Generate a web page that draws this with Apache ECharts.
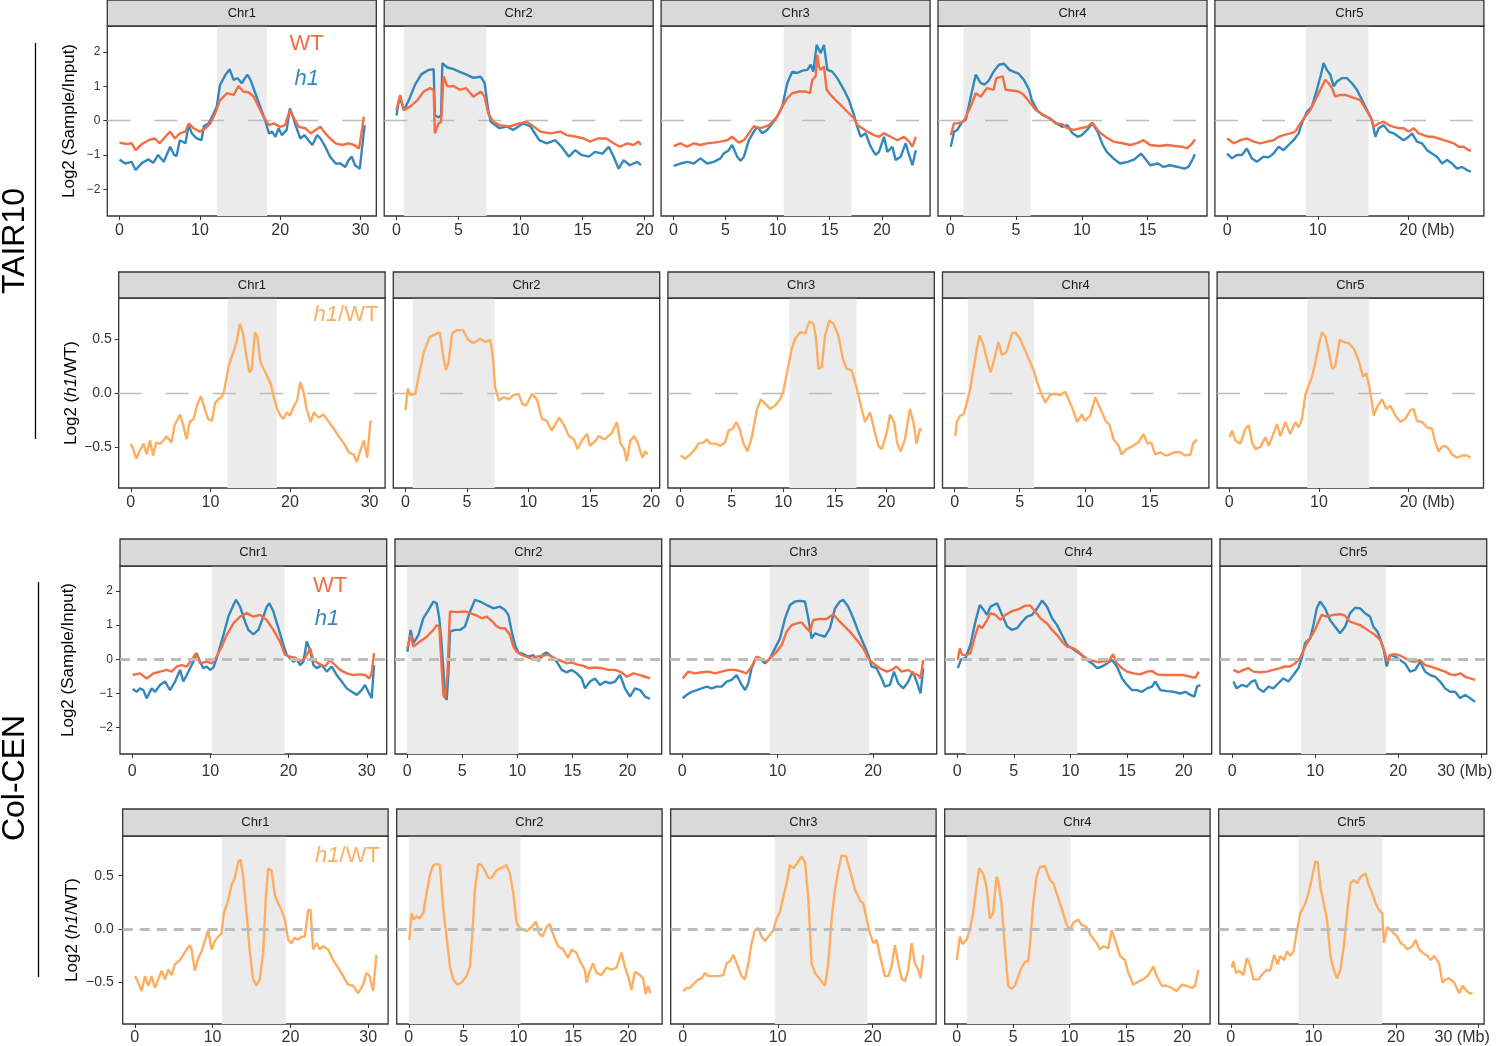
<!DOCTYPE html>
<html>
<head>
<meta charset="utf-8">
<script src="https://cdn.jsdelivr.net/npm/echarts@6/dist/echarts.min.js"></script>
<style>
  html, body { margin: 0; padding: 0; background: #fff; }
  #chart { width: 1500px; height: 1046px; }
</style>
</head>
<body>
<div id="chart"></div>
<script>
const FONT = "'Liberation Sans', Arial, Helvetica, sans-serif";
const RED = '#F46D43', BLUE = '#3288BD', ORANGE = '#FDAE61';

const chrNames = ['Chr1', 'Chr2', 'Chr3', 'Chr4', 'Chr5'];
const tairLen = [30.43, 19.70, 23.46, 18.59, 26.98];
const colLen = [31.0, 22.0, 25.4, 21.4, 29.2];
// pericentromere shading (Mb)
const tairCen = [[12.15, 18.35], [0.6, 7.25], [10.6, 17.1], [1.0, 6.1], [8.7, 15.6]];
const colCenA = [[10.2, 19.5], [0.0, 10.1], [9.2, 19.6], [0.75, 10.6], [8.3, 18.5]];
const colCenB = [[11.2, 19.4], [0.0, 10.2], [9.7, 19.45], [0.9, 10.1], [8.2, 18.3]];
const tairTicks = [[0, 10, 20, 30], [0, 5, 10, 15, 20], [0, 5, 10, 15, 20], [0, 5, 10, 15], [0, 10, 20]];
const colTicks = [[0, 10, 20, 30], [0, 5, 10, 15, 20], [0, 10, 20], [0, 5, 10, 15, 20], [0, 10, 20, 30]];
const inputTicks = [-2, -1, 0, 1, 2];
const ratioTicks = [-0.5, 0, 0.5];

// ---- TAIR10, log2(sample/input) ----
const tH1_1 = [[0.0,-1.13],[0.7,-1.25],[1.5,-1.2],[2.0,-1.44],[2.8,-1.23],[3.6,-1.13],[4.2,-1.23],[4.8,-1.0],[5.5,-1.2],[6.3,-0.76],[6.8,-1.0],[7.1,-1.03],[7.5,-0.57],[8.2,-0.66],[8.6,-0.13],[9.0,-0.37],[9.6,-0.52],[10.2,-0.57],[10.5,-0.16],[11.1,-0.08],[11.7,0.21],[12.1,0.41],[12.5,1.04],[13.2,1.34],[13.7,1.5],[14.2,1.19],[14.7,1.24],[15.2,1.09],[15.9,1.34],[16.3,1.19],[16.9,0.8],[17.5,0.41],[18.1,0.02],[18.6,-0.37],[19.0,-0.32],[19.4,-0.47],[19.8,-0.22],[20.2,-0.42],[20.8,-0.27],[21.2,0.36],[21.5,0.17],[21.9,-0.13],[22.5,-0.52],[23.0,-0.42],[23.5,-0.57],[24.0,-0.71],[24.6,-0.42],[25.0,-0.52],[25.6,-0.76],[26.2,-1.05],[26.9,-1.25],[27.5,-1.25],[28.1,-1.35],[28.5,-1.15],[28.9,-1.05],[29.3,-1.3],[29.9,-1.4],[30.2,-0.76],[30.5,-0.13]];
const tWT1 = [[0.0,-0.64],[0.9,-0.68],[1.5,-0.66],[2.0,-0.86],[2.8,-0.68],[3.6,-0.57],[4.4,-0.52],[5.0,-0.66],[5.7,-0.47],[6.3,-0.32],[6.9,-0.52],[7.5,-0.37],[8.2,-0.32],[8.6,-0.08],[9.2,-0.22],[10.0,-0.32],[10.7,-0.22],[11.3,-0.08],[11.9,0.21],[12.5,0.6],[13.4,0.8],[14.2,0.75],[14.8,1.01],[15.4,0.85],[16.1,0.82],[16.7,0.7],[17.3,0.41],[17.9,0.12],[18.6,-0.13],[19.2,-0.08],[20.0,-0.18],[20.6,-0.13],[21.2,0.31],[21.7,0.07],[22.3,-0.18],[23.1,-0.22],[23.8,-0.37],[24.4,-0.27],[25.0,-0.18],[25.6,-0.37],[26.2,-0.52],[26.9,-0.66],[27.7,-0.71],[28.5,-0.66],[29.2,-0.71],[29.8,-0.81],[30.2,-0.22],[30.4,0.12]];
const tH1_2 = [[0.0,0.15],[0.2,0.6],[0.4,0.55],[0.6,0.3],[1.0,0.6],[1.5,1.05],[2.0,1.35],[2.6,1.48],[3.0,1.5],[3.1,0.15],[3.4,0.1],[3.6,0.15],[3.7,1.68],[4.1,1.55],[4.6,1.5],[5.1,1.42],[5.6,1.35],[6.2,1.25],[6.8,1.28],[7.1,1.1],[7.4,0.3],[7.6,-0.03],[8.3,-0.22],[8.9,-0.17],[9.4,-0.27],[10.2,-0.08],[10.8,-0.17],[11.5,-0.57],[12.1,-0.66],[12.8,-0.57],[13.3,-0.76],[13.9,-1.05],[14.4,-0.86],[14.9,-1.0],[15.5,-1.05],[16.0,-0.91],[16.6,-0.96],[17.1,-0.76],[17.5,-1.05],[17.9,-1.4],[18.3,-1.15],[18.8,-1.3],[19.4,-1.2],[19.7,-1.3]];
const tWT2 = [[0.0,0.31],[0.2,0.6],[0.3,0.75],[0.6,0.31],[1.1,0.41],[1.7,0.6],[2.2,0.85],[2.7,0.95],[3.0,0.9],[3.1,-0.37],[3.2,-0.27],[3.4,-0.08],[3.6,-0.03],[3.8,1.29],[4.1,1.0],[4.6,1.01],[5.1,0.9],[5.6,0.95],[6.2,0.7],[6.8,0.85],[7.1,0.7],[7.4,0.2],[7.8,-0.03],[8.3,-0.13],[9.1,-0.17],[9.9,-0.08],[10.5,-0.03],[10.9,-0.13],[11.6,-0.32],[12.4,-0.37],[13.2,-0.32],[13.7,-0.42],[14.5,-0.47],[15.1,-0.52],[15.6,-0.61],[16.2,-0.52],[16.9,-0.52],[17.5,-0.66],[18.0,-0.76],[18.6,-0.66],[19.1,-0.71],[19.5,-0.61],[19.7,-0.71]];
const tH1_3 = [[0.04,-1.32],[0.68,-1.25],[1.32,-1.2],[1.96,-1.25],[2.6,-1.1],[3.24,-1.25],[3.88,-1.2],[4.52,-1.1],[4.84,-0.96],[5.32,-0.86],[5.64,-0.71],[6.13,-1.05],[6.45,-1.17],[6.77,-1.05],[7.25,-0.57],[7.73,-0.32],[8.05,-0.18],[8.53,-0.37],[9.0,-0.27],[9.49,-0.08],[9.97,0.12],[10.45,0.41],[10.93,1.09],[11.41,1.43],[11.89,1.39],[12.38,1.46],[12.86,1.48],[13.18,1.63],[13.43,1.43],[13.75,2.21],[13.97,2.07],[14.13,1.97],[14.45,2.21],[14.77,1.48],[15.25,1.43],[15.73,1.24],[16.37,0.9],[16.85,0.6],[17.33,0.17],[17.65,-0.18],[17.97,-0.47],[18.45,-0.37],[18.93,-0.76],[19.41,-1.0],[19.73,-0.91],[20.21,-0.47],[20.53,-0.91],[21.01,-0.76],[21.33,-1.15],[21.81,-1.05],[22.29,-0.66],[22.61,-1.0],[22.94,-1.3],[23.26,-0.86]];
const tWT3 = [[0.04,-0.74],[0.68,-0.66],[1.32,-0.76],[1.96,-0.66],[2.6,-0.71],[3.24,-0.66],[3.88,-0.64],[4.52,-0.61],[5.16,-0.57],[5.64,-0.47],[6.28,-0.64],[6.77,-0.57],[7.25,-0.37],[7.73,-0.16],[8.21,-0.22],[8.69,-0.19],[9.17,-0.13],[9.65,0.02],[9.97,0.12],[10.45,0.41],[10.93,0.65],[11.41,0.8],[12.05,0.85],[12.69,0.85],[13.11,0.8],[13.33,1.19],[13.65,1.29],[13.81,1.92],[13.97,1.58],[14.13,1.48],[14.45,1.58],[14.71,0.9],[15.09,0.75],[15.57,0.6],[16.05,0.46],[16.69,0.26],[17.33,0.07],[17.65,-0.13],[18.13,-0.22],[18.61,-0.32],[19.25,-0.42],[19.73,-0.47],[20.21,-0.37],[20.85,-0.47],[21.49,-0.57],[22.13,-0.47],[22.61,-0.61],[22.94,-0.76],[23.26,-0.47]];
const tH1_4 = [[0.04,-0.76],[0.29,-0.32],[0.54,-0.27],[0.92,-0.03],[1.18,0.02],[1.56,0.7],[1.94,1.34],[2.3,1.1],[2.6,1.05],[2.9,1.15],[3.3,1.43],[3.7,1.63],[4.1,1.66],[4.5,1.48],[4.8,1.43],[5.2,1.37],[5.6,1.19],[6.0,0.9],[6.2,0.6],[6.6,0.31],[7.0,0.17],[7.4,0.1],[7.8,0.0],[8.1,-0.08],[8.5,-0.18],[8.9,-0.13],[9.3,-0.37],[9.7,-0.47],[10.0,-0.42],[10.4,-0.27],[10.8,-0.08],[11.2,-0.32],[11.6,-0.71],[11.9,-0.91],[12.4,-1.1],[12.9,-1.25],[13.5,-1.2],[14.0,-1.13],[14.5,-0.96],[14.9,-1.15],[15.2,-1.3],[15.8,-1.25],[16.2,-1.35],[16.7,-1.3],[17.3,-1.35],[17.8,-1.4],[18.1,-1.35],[18.4,-1.15],[18.6,-0.98]];
const tWT4 = [[0.04,-0.42],[0.29,-0.08],[0.54,-0.08],[1.0,-0.03],[1.56,0.41],[1.94,0.8],[2.32,0.7],[2.8,0.95],[3.3,0.9],[3.5,1.24],[4.0,1.29],[4.2,0.9],[4.7,0.88],[5.2,0.85],[5.6,0.75],[6.1,0.51],[6.5,0.31],[6.9,0.21],[7.3,0.12],[7.6,0.07],[8.0,-0.08],[8.5,-0.1],[8.9,-0.22],[9.4,-0.27],[9.9,-0.22],[10.4,-0.18],[10.8,-0.06],[11.3,-0.32],[11.8,-0.47],[12.4,-0.61],[13.1,-0.66],[13.7,-0.71],[14.3,-0.64],[14.7,-0.57],[15.2,-0.71],[15.9,-0.74],[16.5,-0.71],[17.1,-0.74],[17.6,-0.76],[18.0,-0.81],[18.4,-0.66],[18.6,-0.55]];
const tH1_5 = [[0.0,-0.96],[0.53,-1.1],[1.08,-1.0],[1.63,-1.0],[2.18,-0.81],[2.73,-1.1],[3.29,-1.2],[4.02,-1.05],[4.57,-1.07],[5.12,-0.96],[5.68,-0.76],[6.23,-0.86],[6.78,-0.71],[7.33,-0.57],[7.89,-0.37],[8.25,-0.08],[8.8,0.26],[9.36,0.41],[9.9,0.9],[10.35,1.34],[10.64,1.68],[11.0,1.48],[11.38,1.34],[11.75,1.0],[12.11,1.14],[12.67,1.24],[13.22,1.24],[13.77,1.09],[14.32,0.9],[14.88,0.6],[15.43,0.31],[15.98,0.02],[16.35,-0.47],[16.72,-0.22],[17.27,-0.13],[17.82,-0.32],[18.37,-0.37],[18.92,-0.47],[19.48,-0.57],[20.03,-0.47],[20.4,-0.37],[20.95,-0.61],[21.5,-0.66],[22.05,-0.86],[22.6,-0.96],[23.15,-1.05],[23.71,-1.25],[24.26,-1.15],[24.81,-1.25],[25.36,-1.4],[25.91,-1.35],[26.46,-1.44],[26.9,-1.49]];
const tWT5 = [[0.0,-0.52],[0.74,-0.66],[1.47,-0.57],[2.18,-0.52],[2.92,-0.61],[3.65,-0.66],[4.39,-0.61],[5.12,-0.57],[5.68,-0.47],[6.23,-0.42],[6.97,-0.37],[7.52,-0.32],[8.07,-0.08],[8.62,0.12],[9.18,0.31],[9.73,0.6],[10.28,0.9],[10.83,1.19],[11.2,1.09],[11.56,0.95],[11.93,0.7],[12.48,0.75],[13.04,0.75],[13.59,0.7],[14.14,0.65],[14.69,0.6],[15.24,0.36],[15.79,0.12],[16.16,-0.18],[16.72,-0.08],[17.27,-0.03],[17.82,-0.13],[18.37,-0.18],[18.92,-0.22],[19.48,-0.22],[20.03,-0.32],[20.58,-0.22],[21.13,-0.37],[21.68,-0.42],[22.24,-0.47],[22.79,-0.47],[23.34,-0.52],[23.89,-0.57],[24.44,-0.61],[24.99,-0.66],[25.54,-0.76],[26.1,-0.76],[26.65,-0.86],[26.9,-0.88]];

// ---- TAIR10, log2(h1/WT) ----
const tR1 = [[0,-0.47],[0.3,-0.52],[0.7,-0.61],[1.1,-0.54],[1.6,-0.47],[2.0,-0.57],[2.4,-0.44],[2.8,-0.58],[3.2,-0.46],[3.7,-0.47],[4.1,-0.44],[4.5,-0.4],[5.1,-0.46],[5.5,-0.3],[6.2,-0.2],[6.6,-0.3],[7.0,-0.43],[7.4,-0.27],[7.9,-0.24],[8.3,-0.12],[8.8,-0.03],[9.3,-0.15],[9.7,-0.24],[10.2,-0.26],[10.6,-0.09],[11.0,-0.06],[11.4,-0.04],[11.7,0.01],[12.3,0.25],[12.9,0.38],[13.3,0.47],[13.7,0.64],[14.1,0.55],[14.5,0.35],[14.9,0.19],[15.2,0.22],[15.6,0.56],[15.9,0.52],[16.3,0.28],[16.7,0.22],[17.1,0.16],[17.6,0.08],[17.9,-0.02],[18.4,-0.15],[18.8,-0.21],[19.2,-0.24],[19.6,-0.18],[20.0,-0.21],[20.5,-0.12],[20.9,-0.07],[21.3,0.1],[21.7,0.01],[22.1,-0.15],[22.6,-0.27],[23.0,-0.18],[23.6,-0.23],[24.2,-0.2],[24.9,-0.27],[25.5,-0.33],[26.1,-0.4],[26.8,-0.47],[27.4,-0.55],[28.0,-0.57],[28.4,-0.64],[28.9,-0.52],[29.3,-0.44],[29.7,-0.6],[30.1,-0.27],[30.3,-0.26]];
const tR2 = [[0,-0.16],[0.2,0.04],[0.3,0.05],[0.4,-0.02],[0.8,-0.01],[1.1,0.16],[1.5,0.38],[2.0,0.52],[2.6,0.55],[2.8,0.56],[3.1,0.32],[3.3,0.21],[3.5,0.28],[3.8,0.55],[4.2,0.58],[4.7,0.58],[5.1,0.49],[5.5,0.46],[6.1,0.5],[6.5,0.47],[6.9,0.49],[7.1,0.35],[7.3,0.05],[7.6,-0.07],[8.0,-0.04],[8.4,-0.06],[8.8,-0.02],[9.2,-0.01],[9.5,-0.1],[9.8,-0.12],[10.3,-0.01],[10.7,-0.06],[11.1,-0.24],[11.5,-0.26],[11.9,-0.35],[12.5,-0.23],[12.9,-0.3],[13.3,-0.4],[13.7,-0.43],[14.0,-0.52],[14.4,-0.43],[14.8,-0.38],[15.0,-0.49],[15.5,-0.44],[15.7,-0.4],[16.2,-0.43],[16.5,-0.4],[16.8,-0.37],[17.2,-0.27],[17.5,-0.47],[17.8,-0.52],[18.0,-0.63],[18.3,-0.44],[18.6,-0.4],[18.9,-0.46],[19.1,-0.54],[19.3,-0.6],[19.5,-0.54],[19.7,-0.57]];
const tR3 = [[0.08,-0.58],[0.5,-0.61],[0.99,-0.57],[1.47,-0.52],[1.79,-0.47],[2.28,-0.46],[2.6,-0.43],[2.92,-0.47],[3.41,-0.47],[3.89,-0.49],[4.37,-0.46],[4.7,-0.35],[5.12,-0.33],[5.44,-0.27],[5.76,-0.33],[6.15,-0.47],[6.54,-0.54],[6.95,-0.41],[7.44,-0.16],[7.83,-0.06],[8.25,-0.1],[8.73,-0.15],[9.21,-0.12],[9.7,-0.06],[10.02,0.02],[10.5,0.25],[10.83,0.41],[11.15,0.5],[11.63,0.56],[12.12,0.55],[12.54,0.66],[12.92,0.64],[13.18,0.5],[13.41,0.22],[13.73,0.24],[14.05,0.53],[14.47,0.67],[14.86,0.64],[15.34,0.53],[15.76,0.32],[16.15,0.22],[16.63,0.21],[17.12,0.04],[17.6,-0.15],[17.92,-0.27],[18.41,-0.18],[18.89,-0.37],[19.21,-0.49],[19.54,-0.52],[20.02,-0.37],[20.34,-0.2],[20.73,-0.27],[21.05,-0.47],[21.37,-0.54],[21.79,-0.43],[22.27,-0.15],[22.6,-0.27],[22.92,-0.47],[23.24,-0.33],[23.4,-0.35]];
const tR4 = [[0.05,-0.4],[0.17,-0.27],[0.43,-0.21],[0.69,-0.2],[0.94,-0.09],[1.2,0.04],[1.45,0.22],[1.71,0.41],[1.91,0.53],[2.2,0.45],[2.5,0.3],[2.75,0.19],[3.0,0.29],[3.37,0.47],[3.63,0.35],[4.0,0.38],[4.4,0.55],[4.65,0.56],[5.03,0.5],[5.42,0.39],[5.8,0.28],[6.06,0.21],[6.3,0.11],[6.57,0.02],[6.95,-0.09],[7.33,-0.02],[7.72,-0.01],[8.1,-0.02],[8.49,0.01],[8.74,-0.06],[9.1,-0.16],[9.4,-0.27],[9.77,-0.2],[10.0,-0.26],[10.4,-0.21],[10.8,-0.04],[11.2,-0.15],[11.6,-0.26],[11.9,-0.3],[12.2,-0.43],[12.6,-0.49],[12.8,-0.57],[13.2,-0.52],[13.7,-0.49],[14.1,-0.46],[14.5,-0.38],[14.8,-0.47],[15.1,-0.46],[15.4,-0.57],[15.8,-0.55],[16.2,-0.58],[16.5,-0.57],[16.9,-0.55],[17.3,-0.55],[17.7,-0.58],[18.1,-0.57],[18.3,-0.47],[18.6,-0.43]];
const tR5 = [[0.06,-0.41],[0.32,-0.35],[0.69,-0.44],[1.24,-0.47],[1.8,-0.33],[2.18,-0.3],[2.55,-0.46],[2.92,-0.52],[3.47,-0.5],[4.03,-0.41],[4.4,-0.49],[4.95,-0.37],[5.32,-0.29],[5.7,-0.4],[6.25,-0.27],[6.8,-0.38],[7.37,-0.27],[7.74,-0.32],[8.11,-0.24],[8.48,-0.02],[8.86,0.07],[9.23,0.15],[9.6,0.28],[9.97,0.44],[10.34,0.56],[10.71,0.52],[11.08,0.39],[11.45,0.22],[11.82,0.25],[12.31,0.49],[12.75,0.47],[13.31,0.46],[13.87,0.41],[14.42,0.3],[14.91,0.15],[15.28,0.18],[15.65,0.04],[16.1,-0.21],[16.54,-0.12],[17.02,-0.06],[17.51,-0.15],[17.95,-0.12],[18.51,-0.21],[19.07,-0.27],[19.62,-0.24],[20.18,-0.16],[20.55,-0.15],[20.92,-0.26],[21.48,-0.27],[22.04,-0.32],[22.59,-0.33],[22.96,-0.46],[23.33,-0.54],[23.7,-0.5],[24.07,-0.49],[24.45,-0.52],[24.82,-0.57],[25.38,-0.6],[25.94,-0.58],[26.5,-0.58],[26.87,-0.6]];

// ---- Col-CEN, log2(sample/input) ----
const cH1_1 = [[0.07,-0.87],[0.58,-0.95],[1.01,-0.85],[1.44,-0.9],[1.86,-1.14],[2.5,-0.85],[2.93,-0.95],[3.57,-0.75],[4.21,-0.65],[4.85,-0.9],[5.49,-0.65],[6.13,-0.31],[6.55,-0.65],[6.98,-0.46],[7.41,-0.26],[8.04,0.03],[8.26,0.18],[8.68,-0.07],[9.11,-0.26],[9.54,-0.21],[9.96,-0.31],[10.39,-0.24],[10.81,0.03],[11.24,0.37],[11.67,0.71],[12.31,1.25],[12.95,1.59],[13.29,1.74],[13.8,1.54],[14.44,1.1],[14.86,0.86],[15.5,0.73],[16.14,0.86],[16.78,1.25],[17.21,1.54],[17.55,1.64],[18.06,1.4],[18.7,0.91],[19.34,0.42],[19.77,0.13],[20.19,0.03],[20.62,-0.07],[21.05,0.01],[21.47,-0.17],[21.9,-0.07],[22.33,0.52],[22.75,0.27],[23.18,-0.17],[23.6,-0.26],[24.24,-0.17],[24.88,-0.36],[25.52,-0.21],[26.16,-0.46],[26.8,-0.65],[27.44,-0.85],[28.08,-0.95],[28.72,-1.04],[29.35,-0.9],[29.78,-0.75],[30.2,-0.95],[30.63,-1.14],[30.93,-0.17]];
const cWT1 = [[0.07,-0.46],[1.01,-0.41],[1.86,-0.56],[2.71,-0.41],[3.57,-0.36],[4.42,-0.31],[5.06,-0.36],[5.7,-0.21],[6.34,-0.17],[6.98,-0.21],[7.62,-0.02],[8.17,0.18],[8.68,-0.12],[9.54,-0.07],[10.18,-0.12],[10.81,0.08],[11.45,0.37],[12.09,0.71],[12.95,1.05],[13.8,1.25],[14.65,1.35],[15.5,1.25],[16.35,1.3],[17.21,1.15],[18.06,0.86],[18.91,0.52],[19.55,0.13],[20.19,0.08],[20.83,0.05],[21.47,-0.05],[22.11,0.03],[22.75,0.32],[23.18,-0.02],[23.82,-0.12],[24.67,-0.21],[25.31,-0.02],[25.95,-0.17],[26.59,-0.31],[27.44,-0.41],[28.29,-0.46],[29.14,-0.44],[29.78,-0.46],[30.33,-0.56],[30.63,-0.41],[30.93,0.18]];
const cH1_2 = [[0.02,0.22],[0.32,0.86],[0.57,0.47],[1.02,0.71],[1.47,1.2],[1.93,1.44],[2.38,1.69],[2.68,1.64],[2.92,1.2],[3.14,0.42],[3.44,-1.04],[3.59,-1.19],[3.74,-0.46],[3.89,0.81],[4.35,0.86],[4.8,0.86],[5.25,0.96],[5.71,1.4],[6.16,1.74],[6.62,1.69],[7.22,1.59],[7.83,1.49],[8.43,1.54],[8.88,1.44],[9.19,1.3],[9.49,0.81],[9.79,0.42],[10.1,0.2],[10.55,0.15],[11.0,0.08],[11.45,0.12],[11.91,-0.05],[12.36,0.15],[12.66,0.2],[13.12,0.08],[13.57,-0.07],[14.03,-0.31],[14.48,-0.38],[14.93,-0.31],[15.39,-0.41],[15.84,-0.56],[16.14,-0.85],[16.6,-0.65],[17.05,-0.56],[17.51,-0.75],[17.96,-0.65],[18.41,-0.7],[18.87,-0.65],[19.32,-0.46],[19.77,-0.85],[20.23,-1.09],[20.68,-0.85],[21.14,-0.9],[21.59,-1.09],[22.04,-1.16]];
const cWT2 = [[0.02,0.32],[0.32,0.71],[0.57,0.37],[1.17,0.52],[1.78,0.66],[2.38,0.86],[2.68,1.0],[2.92,0.95],[3.14,-0.26],[3.29,-1.04],[3.44,-1.14],[3.65,-0.46],[3.89,1.4],[4.5,1.38],[5.26,1.4],[5.71,1.35],[6.32,1.28],[6.77,1.2],[7.22,1.25],[7.83,1.08],[8.0,1.0],[8.43,0.91],[8.88,0.91],[9.34,0.71],[9.64,0.37],[9.94,0.22],[10.4,0.12],[10.85,0.08],[11.3,0.01],[11.76,0.08],[12.36,0.11],[12.82,0.13],[13.42,0.03],[14.03,-0.05],[14.48,-0.12],[14.93,-0.09],[15.39,-0.15],[15.99,-0.19],[16.45,-0.26],[17.05,-0.24],[17.66,-0.26],[18.27,-0.31],[18.87,-0.31],[19.47,-0.38],[19.93,-0.51],[20.53,-0.41],[21.14,-0.46],[21.59,-0.51],[22.04,-0.56]];
const cH1_3 = [[0.06,-1.14],[0.48,-1.04],[1.0,-0.95],[1.53,-0.9],[2.05,-0.85],[2.57,-0.8],[3.1,-0.85],[3.62,-0.8],[4.14,-0.8],[4.67,-0.65],[5.19,-0.6],[5.71,-0.46],[6.24,-0.75],[6.59,-0.9],[6.94,-0.7],[7.28,-0.26],[7.63,-0.02],[8.16,0.03],[8.68,-0.12],[9.2,0.03],[9.73,0.32],[10.25,0.61],[10.78,1.2],[11.3,1.59],[11.82,1.69],[12.35,1.71],[12.87,1.69],[13.22,1.2],[13.57,0.61],[13.92,0.76],[14.44,0.71],[14.96,0.66],[15.49,0.91],[16.01,1.49],[16.53,1.69],[16.88,1.74],[17.41,1.54],[17.93,1.2],[18.46,0.81],[18.98,0.47],[19.5,0.13],[19.85,-0.21],[20.37,-0.26],[20.9,-0.56],[21.25,-0.8],[21.77,-0.75],[22.19,-0.36],[22.64,-0.7],[23.17,-0.85],[23.69,-0.65],[24.15,-0.36],[24.57,-0.65],[24.98,-1.0],[25.26,-0.26]];
const cWT3 = [[0.06,-0.56],[0.65,-0.36],[1.35,-0.41],[2.05,-0.38],[2.75,-0.36],[3.44,-0.41],[4.14,-0.36],[4.84,-0.31],[5.54,-0.31],[6.24,-0.36],[6.76,-0.41],[7.28,-0.21],[7.81,0.08],[8.33,0.01],[8.86,-0.07],[9.38,0.08],[9.9,0.22],[10.43,0.42],[10.95,0.81],[11.47,1.0],[11.99,1.05],[12.52,1.08],[13.04,0.91],[13.39,0.81],[13.74,1.15],[14.44,1.18],[15.13,1.18],[15.83,1.32],[16.36,1.15],[16.88,1.0],[17.58,0.81],[18.28,0.57],[18.98,0.32],[19.5,0.03],[20.03,-0.12],[20.72,-0.26],[21.42,-0.36],[21.94,-0.31],[22.46,-0.21],[22.99,-0.36],[23.69,-0.31],[24.21,-0.41],[24.73,-0.46],[24.98,-0.56],[25.26,-0.02]];
const cH1_4 = [[0.06,-0.26],[0.35,0.0],[0.73,0.03],[1.17,0.42],[1.61,1.1],[2.0,1.59],[2.35,1.44],[2.64,1.3],[2.94,1.54],[3.53,1.64],[3.97,1.3],[4.41,0.96],[4.85,0.86],[5.29,0.91],[5.73,1.1],[6.17,1.25],[6.61,1.3],[7.06,1.49],[7.5,1.72],[7.94,1.54],[8.38,1.2],[8.82,1.0],[9.26,0.71],[9.7,0.42],[10.14,0.32],[10.58,0.22],[11.03,0.11],[11.47,-0.02],[11.91,-0.12],[12.35,-0.26],[12.79,-0.21],[13.23,-0.12],[13.67,-0.02],[14.11,-0.21],[14.56,-0.56],[15.0,-0.75],[15.44,-0.9],[15.88,-0.9],[16.32,-0.95],[16.76,-0.85],[17.2,-0.8],[17.5,-0.65],[17.94,-0.9],[18.53,-0.93],[19.11,-0.95],[19.7,-1.0],[20.14,-0.95],[20.59,-1.04],[20.94,-1.09],[21.17,-0.8],[21.47,-0.75]];
const cWT4 = [[0.06,-0.02],[0.23,0.32],[0.44,0.13],[0.88,0.13],[1.17,0.18],[1.61,0.71],[1.91,1.0],[2.2,0.91],[2.64,1.15],[2.94,1.35],[3.38,1.3],[3.82,1.15],[4.26,1.3],[4.85,1.41],[5.44,1.47],[6.03,1.57],[6.47,1.57],[6.91,1.39],[7.35,1.2],[7.94,1.05],[8.38,0.86],[8.82,0.71],[9.26,0.52],[9.7,0.37],[10.29,0.32],[10.73,0.22],[11.17,0.08],[11.62,-0.02],[12.06,-0.05],[12.5,-0.09],[12.94,-0.05],[13.38,-0.07],[13.76,0.15],[14.11,-0.12],[14.56,-0.26],[15.0,-0.36],[15.59,-0.41],[16.17,-0.44],[16.76,-0.36],[17.2,-0.34],[17.64,-0.44],[18.23,-0.46],[18.82,-0.46],[19.41,-0.46],[20.0,-0.46],[20.59,-0.51],[21.03,-0.54],[21.32,-0.36]];
const cH1_5 = [[0.15,-0.65],[0.55,-0.85],[1.15,-0.75],[1.76,-0.8],[2.36,-0.65],[2.76,-0.61],[3.16,-0.85],[3.76,-0.95],[4.37,-0.8],[4.97,-0.85],[5.57,-0.7],[6.17,-0.56],[6.78,-0.65],[7.38,-0.46],[7.98,-0.26],[8.38,0.03],[8.78,0.47],[9.39,0.61],[9.79,1.0],[10.19,1.49],[10.59,1.69],[11.19,1.49],[11.79,1.15],[12.4,0.95],[13.0,0.76],[13.6,0.95],[14.2,1.35],[14.81,1.51],[15.41,1.49],[16.01,1.35],[16.61,1.25],[17.02,0.95],[17.5,0.81],[17.82,0.61],[18.22,0.32],[18.62,-0.21],[19.02,0.13],[19.63,0.08],[20.23,-0.02],[20.83,-0.12],[21.43,-0.36],[22.04,-0.31],[22.64,-0.07],[23.24,-0.36],[23.84,-0.46],[24.45,-0.51],[25.05,-0.65],[25.65,-0.85],[26.25,-0.95],[26.85,-0.95],[27.46,-1.14],[28.06,-1.04],[28.66,-1.14],[29.26,-1.24]];
const cWT5 = [[0.15,-0.31],[0.75,-0.38],[1.35,-0.31],[1.96,-0.26],[2.56,-0.36],[3.36,-0.38],[4.16,-0.36],[4.97,-0.31],[5.77,-0.26],[6.37,-0.21],[6.97,-0.21],[7.58,-0.12],[8.18,0.03],[8.78,0.37],[9.39,0.61],[9.99,0.86],[10.39,1.1],[10.79,1.3],[11.39,1.25],[12.2,1.3],[13.0,1.32],[13.6,1.28],[14.2,1.1],[14.81,1.05],[15.41,1.0],[16.01,0.91],[16.61,0.81],[17.22,0.71],[17.82,0.57],[18.3,0.27],[18.7,-0.07],[19.02,0.13],[19.63,0.15],[20.23,0.11],[20.83,0.03],[21.43,-0.05],[22.04,-0.07],[22.64,-0.02],[23.24,-0.17],[23.84,-0.21],[24.45,-0.26],[25.05,-0.31],[25.65,-0.36],[26.25,-0.44],[26.85,-0.46],[27.46,-0.41],[28.06,-0.51],[28.66,-0.56],[29.26,-0.6]];

// ---- Col-CEN, log2(h1/WT) ----
const cR1 = [[0.03,-0.44],[0.45,-0.5],[0.88,-0.58],[1.31,-0.44],[1.74,-0.53],[2.17,-0.44],[2.59,-0.55],[3.02,-0.47],[3.45,-0.39],[3.88,-0.47],[4.3,-0.38],[4.73,-0.43],[5.16,-0.33],[5.8,-0.29],[6.23,-0.24],[6.66,-0.19],[7.09,-0.15],[7.3,-0.19],[7.73,-0.39],[8.16,-0.27],[8.58,-0.21],[9.01,-0.11],[9.44,-0.01],[9.87,-0.19],[10.3,-0.11],[10.72,-0.07],[11.15,-0.04],[11.45,0.15],[12.0,0.27],[12.43,0.41],[12.86,0.48],[13.29,0.63],[13.59,0.65],[13.93,0.49],[14.36,0.15],[14.79,-0.22],[15.21,-0.47],[15.64,-0.53],[16.07,-0.47],[16.5,-0.22],[16.84,0.3],[17.14,0.57],[17.57,0.55],[18.0,0.32],[18.43,0.24],[18.85,0.18],[19.28,0.09],[19.71,-0.1],[20.14,-0.13],[20.57,-0.08],[20.99,-0.1],[21.42,-0.07],[21.85,-0.07],[22.28,0.18],[22.58,0.18],[22.92,-0.19],[23.35,-0.13],[23.77,-0.19],[24.2,-0.16],[24.84,-0.19],[25.49,-0.29],[26.13,-0.36],[26.77,-0.44],[27.41,-0.52],[28.05,-0.53],[28.7,-0.6],[29.34,-0.52],[29.77,-0.41],[30.19,-0.44],[30.62,-0.58],[31.05,-0.24]];
const cR2 = [[0.05,-0.1],[0.26,0.15],[0.47,0.09],[0.72,0.12],[0.96,0.1],[1.32,0.15],[1.63,0.34],[1.93,0.51],[2.24,0.6],[2.54,0.61],[2.84,0.6],[3.15,0.18],[3.45,-0.07],[3.75,-0.35],[4.06,-0.47],[4.42,-0.52],[4.82,-0.5],[5.27,-0.44],[5.58,-0.35],[5.82,-0.01],[6.03,0.37],[6.33,0.61],[6.64,0.6],[6.94,0.55],[7.25,0.48],[7.55,0.48],[8.0,0.55],[8.61,0.58],[8.92,0.6],[9.22,0.52],[9.53,0.34],[9.83,0.06],[10.13,0.01],[10.44,0.0],[10.74,-0.02],[11.2,0.02],[11.59,0.07],[11.89,-0.04],[12.2,-0.07],[12.56,0.02],[12.87,0.05],[13.17,-0.05],[13.62,-0.16],[14.08,-0.19],[14.53,-0.27],[14.84,-0.19],[15.29,-0.22],[15.6,-0.3],[16.05,-0.38],[16.21,-0.5],[16.51,-0.39],[16.81,-0.32],[17.12,-0.41],[17.57,-0.43],[18.03,-0.36],[18.48,-0.38],[18.94,-0.36],[19.4,-0.22],[19.7,-0.35],[20.0,-0.44],[20.3,-0.57],[20.61,-0.4],[21.07,-0.43],[21.37,-0.46],[21.61,-0.61],[21.82,-0.53],[22.03,-0.6]];
const cR3 = [[0.06,-0.58],[0.41,-0.55],[0.76,-0.55],[1.28,-0.5],[1.64,-0.47],[1.99,-0.46],[2.34,-0.41],[2.69,-0.44],[3.21,-0.44],[3.73,-0.44],[4.27,-0.43],[4.62,-0.32],[4.97,-0.3],[5.32,-0.24],[5.67,-0.32],[6.2,-0.44],[6.55,-0.47],[6.9,-0.32],[7.25,-0.13],[7.6,-0.01],[7.95,0.01],[8.3,-0.07],[8.65,-0.11],[9.18,-0.05],[9.53,-0.01],[9.88,0.1],[10.23,0.16],[10.58,0.3],[10.93,0.43],[11.28,0.6],[11.63,0.57],[11.99,0.61],[12.51,0.68],[12.86,0.63],[13.21,0.3],[13.56,-0.32],[13.92,-0.41],[14.44,-0.47],[14.97,-0.53],[15.32,-0.32],[15.67,0.09],[16.02,0.37],[16.37,0.55],[16.72,0.69],[17.18,0.68],[17.6,0.55],[18.13,0.37],[18.65,0.27],[19.0,0.24],[19.35,0.1],[19.7,-0.04],[20.06,-0.13],[20.41,-0.1],[20.76,-0.25],[21.28,-0.44],[21.63,-0.44],[21.98,-0.35],[22.34,-0.15],[22.69,-0.32],[23.04,-0.46],[23.39,-0.49],[23.74,-0.38],[24.09,-0.13],[24.44,-0.32],[24.79,-0.38],[25.04,-0.46],[25.32,-0.24]];
const cR4 = [[0.0,-0.29],[0.27,-0.07],[0.5,-0.14],[0.86,-0.1],[1.15,-0.01],[1.45,0.15],[1.75,0.4],[1.98,0.57],[2.34,0.52],[2.63,0.4],[2.93,0.1],[3.23,0.15],[3.52,0.49],[3.67,0.46],[3.97,0.24],[4.26,-0.16],[4.56,-0.53],[4.86,-0.56],[5.15,-0.53],[5.45,-0.44],[5.74,-0.36],[6.04,-0.31],[6.34,-0.3],[6.48,-0.16],[6.78,0.24],[7.08,0.49],[7.37,0.58],[7.82,0.59],[8.26,0.46],[8.56,0.43],[8.85,0.34],[9.15,0.24],[9.44,0.15],[9.74,0.04],[10.04,-0.01],[10.33,0.06],[10.78,0.09],[11.07,0.04],[11.52,0.02],[11.96,-0.07],[12.41,-0.13],[12.7,-0.19],[13.0,-0.16],[13.44,-0.18],[13.74,-0.01],[14.03,-0.1],[14.48,-0.25],[14.92,-0.29],[15.22,-0.41],[15.66,-0.52],[16.1,-0.49],[16.55,-0.47],[16.99,-0.43],[17.44,-0.35],[17.73,-0.44],[18.18,-0.53],[18.62,-0.53],[19.06,-0.55],[19.51,-0.58],[19.95,-0.52],[20.4,-0.53],[20.84,-0.55],[21.14,-0.53],[21.43,-0.38]];
const cR5 = [[0.11,-0.36],[0.32,-0.3],[0.64,-0.41],[1.04,-0.39],[1.53,-0.43],[1.94,-0.27],[2.26,-0.32],[2.75,-0.47],[3.36,-0.47],[3.96,-0.41],[4.36,-0.38],[4.77,-0.39],[5.25,-0.24],[5.66,-0.33],[5.98,-0.25],[6.47,-0.29],[6.79,-0.21],[7.2,-0.25],[7.6,-0.21],[8.0,-0.02],[8.41,0.15],[9.02,0.24],[9.42,0.34],[9.83,0.48],[10.23,0.63],[10.52,0.63],[10.84,0.4],[11.25,0.24],[11.65,0.09],[12.06,-0.25],[12.46,-0.38],[12.87,-0.46],[13.27,-0.38],[13.68,-0.16],[14.08,0.15],[14.49,0.43],[14.89,0.46],[15.3,0.43],[15.7,0.49],[16.31,0.52],[16.71,0.41],[17.12,0.34],[17.52,0.24],[17.93,0.18],[18.33,0.15],[18.53,-0.13],[18.94,0.02],[19.34,-0.01],[19.75,-0.04],[20.15,-0.07],[20.56,-0.13],[20.96,-0.15],[21.37,-0.19],[21.98,-0.16],[22.38,-0.1],[22.79,-0.19],[23.19,-0.22],[23.8,-0.25],[24.2,-0.29],[24.61,-0.25],[25.21,-0.32],[25.62,-0.5],[26.02,-0.47],[26.43,-0.46],[27.04,-0.5],[27.64,-0.6],[28.05,-0.53],[28.45,-0.57],[28.86,-0.6],[29.26,-0.6]];

// layout of the four facet rows
const rows = [
  { top: 26, h: 190, left: 107.3, w: 269, gap: 7.9, strip: 26, yr: [-2.78, 2.76], yTicks: inputTicks, yFont: 12, yMargin: 7, xMargin: 7, nameGap: 29, ratio: false,
    len: tairLen, cen: tairCen, xt: tairTicks, lines: [[tH1_1, tWT1], [tH1_2, tWT2], [tH1_3, tWT3], [tH1_4, tWT4], [tH1_5, tWT5]], colors: [BLUE, RED],
    dashW: 1.4, dash: [23, 24], dashZ: 2, mbPad: [0, 0, 0, 37] },
  { top: 298, h: 190, left: 118.7, w: 266.4, gap: 8.2, strip: 26, yr: [-0.88, 0.877], yTicks: ratioTicks, yFont: 14, yMargin: 7, xMargin: 7, nameGap: 39, ratio: true,
    len: tairLen, cen: tairCen, xt: tairTicks, lines: [[tR1], [tR2], [tR3], [tR4], [tR5]], colors: [ORANGE],
    dashW: 1.4, dash: [23, 24], dashZ: 2, mbPad: [0, 0, 0, 37] },
  { top: 566, h: 188, left: 120, w: 266.7, gap: 8.3, strip: 27, yr: [-2.77, 2.73], yTicks: inputTicks, yFont: 12, yMargin: 7, xMargin: 10, nameGap: 43, ratio: false,
    len: colLen, cen: colCenA, xt: colTicks, lines: [[cH1_1, cWT1], [cH1_2, cWT2], [cH1_3, cWT3], [cH1_4, cWT4], [cH1_5, cWT5]], colors: [BLUE, RED],
    dashW: 3, dash: [10, 7], dashZ: 5, mbPad: [0, 33, 0, 0] },
  { top: 836, h: 188, left: 122.7, w: 265.4, gap: 8.6, strip: 27, yr: [-0.888, 0.872], yTicks: ratioTicks, yFont: 14, yMargin: 9, xMargin: 6, nameGap: 42, ratio: true,
    len: colLen, cen: colCenB, xt: colTicks, lines: [[cR1], [cR2], [cR3], [cR4], [cR5]], colors: [ORANGE],
    dashW: 3, dash: [10, 7], dashZ: 5, mbPad: [0, 33, 0, 0] }
];

const legends = [
  { x: 306.7, y: 44, text: 'WT', color: RED },
  { x: 306.7, y: 79, text: '{i|h1}', color: BLUE },
  { x: 346, y: 314.5, text: '{i|h1}/WT', color: ORANGE },
  { x: 330, y: 586, text: 'WT', color: RED },
  { x: 327, y: 619, text: '{i|h1}', color: BLUE },
  { x: 347.5, y: 855.5, text: '{i|h1}/WT', color: ORANGE }
];

const minus = s => String(s).replace('-', '\u2212');

const grids = [], xAxes = [], yAxes = [], series = [], graphics = [];

rows.forEach((row, r) => {
  for (let c = 0; c < 5; c++) {
    const i = r * 5 + c;
    const L = row.len[c];
    const left = row.left + c * (row.w + row.gap);
    const ticks = row.xt[c];
    const last = ticks[ticks.length - 1];
    const isMb = c === 4;

    grids.push({ left: left, top: row.top, width: row.w, height: row.h, show: true,
      borderColor: '#333', borderWidth: 1.3, backgroundColor: 'transparent', outerBoundsMode: 'none' });

    xAxes.push({
      gridIndex: i, type: 'value', position: 'bottom', min: -0.05 * L, max: 1.05 * L,
      axisLine: { show: false, onZero: false }, splitLine: { show: false },
      axisTick: { show: true, length: 4, customValues: ticks, lineStyle: { color: '#333', width: 1 } },
      axisLabel: {
        customValues: ticks, fontSize: 16, color: '#333', fontFamily: FONT, margin: row.xMargin,
        formatter: v => (isMb && v === last) ? '{mb|' + v + ' (Mb)}' : String(v),
        rich: { mb: { fontSize: 16, color: '#333', fontFamily: FONT, padding: row.mbPad } }
      }
    });

    const first = c === 0;
    const yName = !first ? '' : (row.ratio ? '{a|Log2 (}{b|h1}{a|/WT)}' : 'Log2 (Sample/Input)');
    yAxes.push({
      gridIndex: i, type: 'value', position: 'left', min: row.yr[0], max: row.yr[1],
      axisLine: { show: false, onZero: false }, splitLine: { show: false },
      axisTick: { show: first, length: 4, customValues: row.yTicks, lineStyle: { color: '#333', width: 1 } },
      axisLabel: {
        show: first, customValues: row.yTicks, fontSize: row.yFont, color: '#333', fontFamily: FONT, margin: row.yMargin,
        formatter: v => row.ratio ? minus(v.toFixed(1)) : minus(v)
      },
      name: yName, nameLocation: 'middle', nameGap: row.nameGap, nameMoveOverlap: false,
      nameTextStyle: {
        fontSize: 17, color: '#000', fontFamily: FONT,
        rich: { a: { fontSize: 17, color: '#000', fontFamily: FONT }, b: { fontSize: 17, color: '#000', fontFamily: FONT, fontStyle: 'italic' } }
      }
    });

    row.lines[c].forEach((data, k) => {
      const s = {
        type: 'line', xAxisIndex: i, yAxisIndex: i, data: data,
        showSymbol: false, symbol: 'none', silent: true, z: 3,
        lineStyle: { color: row.colors[k], width: 2.4 }, itemStyle: { color: row.colors[k] },
        emphasis: { disabled: true }
      };
      if (k === 0) {
        s.markArea = { silent: true, z: 1, itemStyle: { color: '#EBEBEB' }, label: { show: false },
          emphasis: { disabled: true }, data: [[{ xAxis: row.cen[c][0] }, { xAxis: row.cen[c][1] }]] };
        s.markLine = { silent: true, z: row.dashZ, symbol: ['none', 'none'], label: { show: false },
          emphasis: { disabled: true },
          lineStyle: { color: '#BDBDBD', width: row.dashW, type: row.dash }, data: [{ yAxis: 0 }] };
      }
      series.push(s);
    });

    // facet strip
    graphics.push({ type: 'rect', silent: true, z: 10,
      shape: { x: left, y: row.top - row.strip, width: row.w, height: row.strip },
      style: { fill: '#D9D9D9', stroke: '#333', lineWidth: 1.3 } });
    graphics.push({ type: 'text', silent: true, z: 11, x: left + row.w / 2, y: row.top - row.strip / 2,
      style: { text: chrNames[c], fill: '#1A1A1A', font: '13px ' + FONT, align: 'center', verticalAlign: 'middle',
        textAlign: 'center', textVerticalAlign: 'middle' } });
  }
});

legends.forEach(l => {
  graphics.push({ type: 'text', silent: true, z: 11, x: l.x, y: l.y,
    style: { text: l.text, fill: l.color, font: '22px ' + FONT, align: 'center', verticalAlign: 'middle',
      textAlign: 'center', textVerticalAlign: 'middle',
      rich: { i: { fill: l.color, font: 'italic 22px ' + FONT } } } });
});

// genome labels on the far left
[['TAIR10', 241, 35.5, 43, 439], ['Col-CEN', 778, 38.5, 582, 977]].forEach(([txt, cy, lx, y1, y2]) => {
  graphics.push({ type: 'text', silent: true, x: 15, y: cy, rotation: Math.PI / 2,
    style: { text: txt, fill: '#000', font: '32px ' + FONT, align: 'center', verticalAlign: 'middle',
      textAlign: 'center', textVerticalAlign: 'middle' } });
  graphics.push({ type: 'line', silent: true, shape: { x1: lx, y1: y1, x2: lx, y2: y2 },
    style: { stroke: '#000', lineWidth: 1.3 } });
});

const chart = echarts.init(document.getElementById('chart'), null, { renderer: 'canvas', width: 1500, height: 1046 });
chart.setOption({
  animation: false,
  backgroundColor: '#fff',
  textStyle: { fontFamily: FONT },
  grid: grids,
  xAxis: xAxes,
  yAxis: yAxes,
  series: series,
  graphic: { elements: graphics }
});
</script>
</body>
</html>
